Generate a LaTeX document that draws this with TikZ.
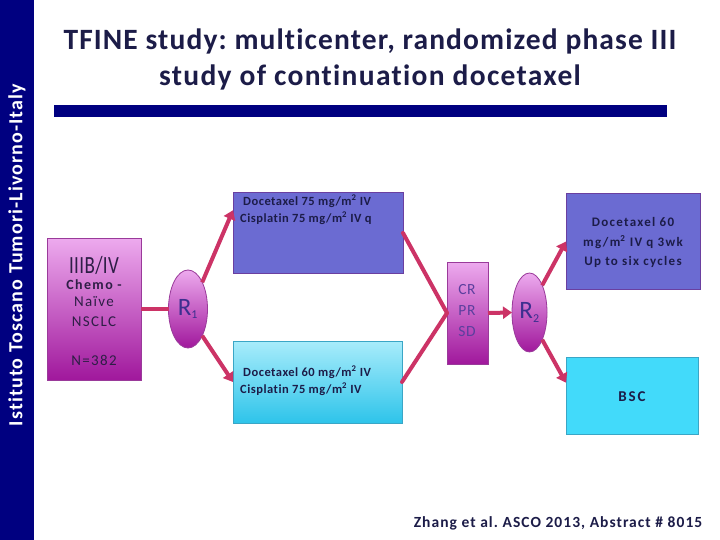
\documentclass[tikz,border=0pt]{standalone}
\usepackage{fontspec}
\setmainfont{Carlito}[Ligatures=NoCommon]
\usetikzlibrary{arrows.meta,shapes.geometric}
\frenchspacing
\definecolor{navy}{HTML}{000080}
\definecolor{arr}{HTML}{CC3366}
\definecolor{txt}{HTML}{1C1C48}
\definecolor{slate}{HTML}{6B6BD2}
\definecolor{slateb}{HTML}{6A3FA0}
\definecolor{pinkt}{HTML}{EDAAEE}
\definecolor{pinkb}{HTML}{A0189C}
\definecolor{pinkd}{HTML}{9A3A9A}
\definecolor{cyant}{HTML}{A8ECFB}
\definecolor{cyanb}{HTML}{2EC4EA}
\definecolor{cyanf}{HTML}{42DAFA}
\definecolor{cyand}{HTML}{3AA6C6}
\definecolor{rtxt}{HTML}{3C2F8F}
\definecolor{crtxt}{HTML}{5B3F9E}
\definecolor{lbtxt}{HTML}{2E1E46}
\tikzset{
  fs/.style 2 args={font=\fontsize{#1}{#1}\selectfont\addfontfeature{LetterSpace=#2}},
  fsb/.style 2 args={font=\fontsize{#1}{#1}\selectfont\bfseries\addfontfeature{LetterSpace=#2}},
  magbox/.style={draw=pinkd, line width=1pt, top color=pinkt, bottom color=pinkb, inner sep=0pt, outer sep=0pt, anchor=north west},
  slatebox/.style={draw=slateb, line width=1pt, fill=slate, inner sep=0pt, outer sep=0pt, anchor=north west},
  cyanbox/.style={draw=cyand, line width=1pt, top color=cyant, bottom color=cyanb, inner sep=0pt, outer sep=0pt, anchor=north west},
  bscbox/.style={draw=cyand, line width=1pt, fill=cyanf, inner sep=0pt, outer sep=0pt, anchor=north west},
  rnd/.style={ellipse, draw=pinkd, line width=0.8pt, top color=pinkt, bottom color=pinkb, inner sep=0pt, outer sep=0pt},
  link/.style={draw=arr, line width=4pt},
  arrow/.style={link, -{Triangle[length=9pt,width=12pt]}},
  btxt/.style={text=txt, inner sep=0pt},
}
\begin{document}
\begin{tikzpicture}[x=1pt,y=-1pt]
\useasboundingbox (0,0) rectangle (720,540);
\fill[white] (0,0) rectangle (720,540);
% side band
\fill[navy] (0,0) rectangle (34,540);
\node[rotate=90, text=white, fsb={20}{5.5}, inner sep=0pt] (side) at (17,255) {Istituto Toscano Tumori-Livorno-Italy};
% title
\node[text=txt, fsb={29.5}{3.8}, inner sep=0pt] (t1) at (370,41) {TFINE study: multicenter, randomized phase III};
\node[text=txt, fsb={29.5}{4.4}, inner sep=0pt] (t2) at (370,77) {study of continuation docetaxel};
\fill[navy] (54,105) rectangle (667,117);
% boxes
\node[magbox, minimum width=94pt, minimum height=142pt] (lb) at (47,238) {};
\node[rnd, minimum width=39pt, minimum height=78pt] (r1) at (188,309) {};
\node[slatebox, minimum width=170pt, minimum height=80pt] (tb) at (233,193) {};
\node[cyanbox, minimum width=169pt, minimum height=82pt] (bb) at (233,341) {};
\node[magbox, minimum width=41pt, minimum height=102pt] (cr) at (447,262) {};
\node[rnd, minimum width=35pt, minimum height=79pt] (r2) at (529.5,312.5) {};
\node[slatebox, minimum width=134pt, minimum height=95pt] (tr) at (566,194) {};
\node[bscbox, minimum width=132pt, minimum height=77pt] (bsc) at (566,357) {};
% left box texts
\node[text=lbtxt, fs={19}{2}, inner sep=0pt, anchor=base, text depth=0pt] (lb1) at (94,273.5) {\scalebox{1}[1.3]{IIIB/IV}};
\node[text=lbtxt, fsb={14}{10}, inner sep=0pt, anchor=base, text height=9.5pt] (lb2) at (94,289) {Chemo -};
\node[text=lbtxt, fs={15}{9}, inner sep=0pt] (lb3) at (94,302) {Naïve};
\node[text=lbtxt, fs={15}{9}, inner sep=0pt] (lb4) at (94,322) {NSCLC};
\node[text=lbtxt, fs={15}{9}, inner sep=0pt] (lb5) at (94,360) {N=382};
% R labels
\node[text=rtxt, fs={25}{0}, inner sep=0pt] (r1t) at (r1.center) {R\textsubscript{\fontsize{12}{12}\selectfont 1}};
\node[text=rtxt, fs={25}{0}, inner sep=0pt] (r2t) at (r2.center) {R\textsubscript{\fontsize{12}{12}\selectfont 2}};
% CR PR SD
\node[text=crtxt, fs={15.5}{4}, inner sep=0pt] (c1) at (467,290) {CR};
\node[text=crtxt, fs={15.5}{4}, inner sep=0pt] (c2) at (467,311) {PR};
\node[text=crtxt, fs={15.5}{4}, inner sep=0pt] (c3) at (467,332) {SD};
% box texts
\node[btxt, align=left, anchor=north west, font=\fontsize{12.5}{17}\selectfont\bfseries\addfontfeature{LetterSpace=4}] (tbt) at (240,195) {\hspace{3pt}Docetaxel 75 mg/m\textsuperscript{2} IV\\Cisplatin 75 mg/m\textsuperscript{2} IV q};
\node[btxt, align=left, anchor=north west, font=\fontsize{12.5}{17}\selectfont\bfseries\addfontfeature{LetterSpace=4}] (bbt) at (240,366) {\hspace{3pt}Docetaxel 60 mg/m\textsuperscript{2} IV\\Cisplatin 75 mg/m\textsuperscript{2} IV};
\node[btxt, align=center, font=\fontsize{13}{19.5}\selectfont\bfseries\addfontfeature{LetterSpace=10}] (trt) at (633,242.5) {Docetaxel 60\\mg/m\textsuperscript{2} IV q 3wk\\Up to six cycles};
\node[btxt, fsb={15}{13}] (bsct) at (632,397) {BSC};
% connectors
\draw[link] (lb.east) -- (r1.west);
\draw[arrow] (r1.62) -- (tb.165);
\draw[arrow] (r1.-62) -- (bb.west);
\draw[link, line cap=round] (tb.east) -- (cr.west);
\draw[link, line cap=round] (bb.east) -- (cr.west);
\draw[arrow] (cr.east) -- (r2.west);
\draw[arrow] (r2.65) -- (tr.west);
\draw[arrow] (r2.-65) -- (bsc.169);
% citation
\node[text=txt, fsb={15.5}{6.8}, inner sep=0pt] (cite) at (558,523) {Zhang et al. ASCO 2013, Abstract \# 8015};
\end{tikzpicture}
\end{document}
